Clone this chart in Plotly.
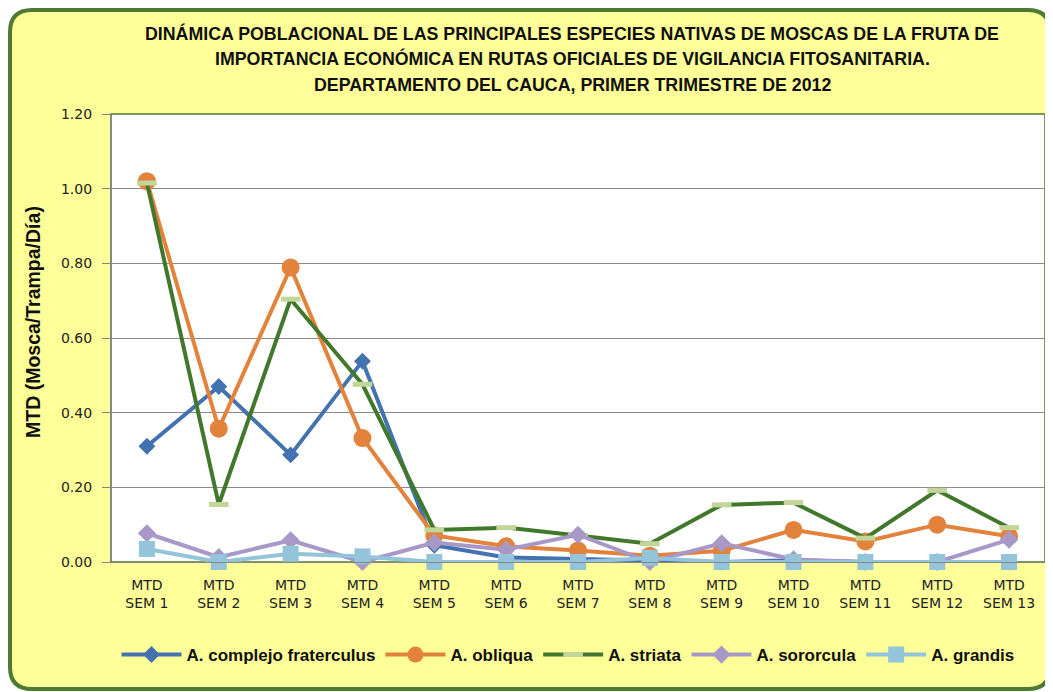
import plotly.graph_objects as go

# ---------------- data ----------------
categories = ["MTD<br>SEM 1", "MTD<br>SEM 2", "MTD<br>SEM 3", "MTD<br>SEM 4", "MTD<br>SEM 5",
              "MTD<br>SEM 6", "MTD<br>SEM 7", "MTD<br>SEM 8", "MTD<br>SEM 9", "MTD<br>SEM 10",
              "MTD<br>SEM 11", "MTD<br>SEM 12", "MTD<br>SEM 13"]

fraterculus = [0.31, 0.47, 0.287, 0.538, 0.045, 0.012, 0.008, 0.005, 0.0, 0.005, 0.0, 0.0, 0.0]
obliqua = [1.02, 0.357, 0.789, 0.332, 0.071, 0.042, 0.031, 0.017, 0.03, 0.086, 0.055, 0.10, 0.069]
striata = [1.015, 0.154, 0.704, 0.476, 0.086, 0.092, 0.071, 0.049, 0.153, 0.159, 0.064, 0.192, 0.092]
sororcula = [0.077, 0.013, 0.058, 0.0, 0.052, 0.033, 0.073, 0.0, 0.05, 0.007, 0.0, 0.0, 0.06]
grandis = [0.035, 0.0, 0.022, 0.015, 0.0, 0.0, 0.0, 0.011, 0.0, 0.0, 0.0, 0.0, 0.0]

series_names = ["A. complejo fraterculus", "A. obliqua", "A. striata", "A. sororcula", "A. grandis"]
y_ticks = [0.0, 0.2, 0.4, 0.6, 0.8, 1.0, 1.2]

title_lines = [
    "DINÁMICA POBLACIONAL DE LAS PRINCIPALES ESPECIES NATIVAS DE MOSCAS DE LA FRUTA DE",
    "IMPORTANCIA ECONÓMICA EN RUTAS OFICIALES DE VIGILANCIA FITOSANITARIA.",
    "DEPARTAMENTO DEL CAUCA, PRIMER TRIMESTRE DE 2012",
]
y_title = "MTD (Mosca/Trampa/Día)"

# ---------------- style ----------------
OFF = 8                      # default page body margin
W, H = 1053 - OFF, 692 - OFF
L, R, T, B = 111 - OFF, 8, 114 - OFF, 130   # plot area margins (figure px)
pw, ph = W - L - R, H - T - B

BOLDF = "Liberation Sans, Arial, sans-serif"
TICKF = "DejaVu Sans, Verdana, sans-serif"

styles = [
    dict(color="#4272B0", marker=dict(symbol="diamond", size=13, color="#4272B0")),
    dict(color="#E2823B", marker=dict(symbol="circle", size=18, color="#E2823B")),
    dict(color="#41782B", marker=dict(symbol="line-ew", size=14, color="#C2D69A",
                                      line=dict(color="#C2D69A", width=5))),
    dict(color="#A898C8", marker=dict(symbol="diamond", size=14, color="#A898C8")),
    dict(color="#93C4D9", marker=dict(symbol="square", size=16, color="#93C4D9")),
]

def px_to_paper_x(px):          # page px -> paper
    return (px - OFF - L) / pw

def px_to_paper_y(py):
    return (H - B - (py - OFF)) / ph

fig = go.Figure()
for name, vals, st in zip(series_names, [fraterculus, obliqua, striata, sororcula, grandis], styles):
    fig.add_trace(go.Scatter(
        x=categories, y=vals, name=f"<b>{name}</b>", mode="lines+markers",
        line=dict(color=st["color"], width=4),
        marker=st["marker"], cliponaxis=False,
    ))

# outer rounded yellow frame
x0, x1 = px_to_paper_x(OFF + 2), px_to_paper_x(1050)
y0, y1 = px_to_paper_y(689), px_to_paper_y(OFF + 2)
rx, ry = 22 / pw, 22 / ph
path = (f"M {x0+rx},{y1} L {x1-rx},{y1} Q {x1},{y1} {x1},{y1-ry} "
        f"L {x1},{y0+ry} Q {x1},{y0} {x1-rx},{y0} "
        f"L {x0+rx},{y0} Q {x0},{y0} {x0},{y0+ry} "
        f"L {x0},{y1-ry} Q {x0},{y1} {x0+rx},{y1} Z")

shapes = [
    dict(type="path", xref="paper", yref="paper", path=path, fillcolor="#FFFF99",
         line=dict(color="#4E7A32", width=4), layer="below"),
    dict(type="rect", xref="paper", yref="paper", x0=0, x1=1, y0=0, y1=1,
         fillcolor="white", line=dict(color="#4E7A32", width=1.5), layer="below"),
]

annotations = []
for i, line in enumerate(title_lines):
    annotations.append(dict(
        text=f"<b>{line}</b>", xref="paper", yref="paper",
        x=px_to_paper_x(572), y=px_to_paper_y(33 + 26 * i),
        xanchor="center", yanchor="middle", showarrow=False,
        font=dict(family=BOLDF, size=17.8, color="#111111")))
annotations.append(dict(
    text=f"<b>{y_title}</b>", xref="paper", yref="paper",
    x=px_to_paper_x(33), y=px_to_paper_y(322), textangle=-90,
    xanchor="center", yanchor="middle", showarrow=False,
    font=dict(family=BOLDF, size=19.5, color="#111111")))

fig.update_layout(
    width=W, height=H,
    margin=dict(l=L, r=R, t=T, b=B, pad=0),
    paper_bgcolor="white", plot_bgcolor="rgba(0,0,0,0)",
    shapes=shapes, annotations=annotations,
    showlegend=True,
    legend=dict(orientation="h", x=px_to_paper_x(568), xanchor="center",
                y=px_to_paper_y(655), yanchor="middle",
                bgcolor="rgba(0,0,0,0)", itemwidth=60,
                font=dict(family=BOLDF, size=17, color="#111111")),
    font=dict(family=TICKF),
)

fig.update_xaxes(
    type="category", range=[-0.5, 12.5], showgrid=False,
    showline=True, linecolor="#868686", linewidth=1.2,
    ticks="", ticklabelstandoff=10,
    tickfont=dict(family=TICKF, size=14, color="#222222"),
    fixedrange=True,
)
fig.update_yaxes(
    range=[0, 1.2], tickvals=y_ticks, tickformat=".2f",
    showgrid=True, gridcolor="#8A8A8A", gridwidth=1.2,
    showline=True, linecolor="#868686", linewidth=1.2,
    ticks="outside", ticklen=8, tickcolor="#868686",
    ticklabelstandoff=7,
    tickfont=dict(family=TICKF, size=14, color="#222222"),
    zeroline=False, fixedrange=True,
)

fig.write_html("out.html")
